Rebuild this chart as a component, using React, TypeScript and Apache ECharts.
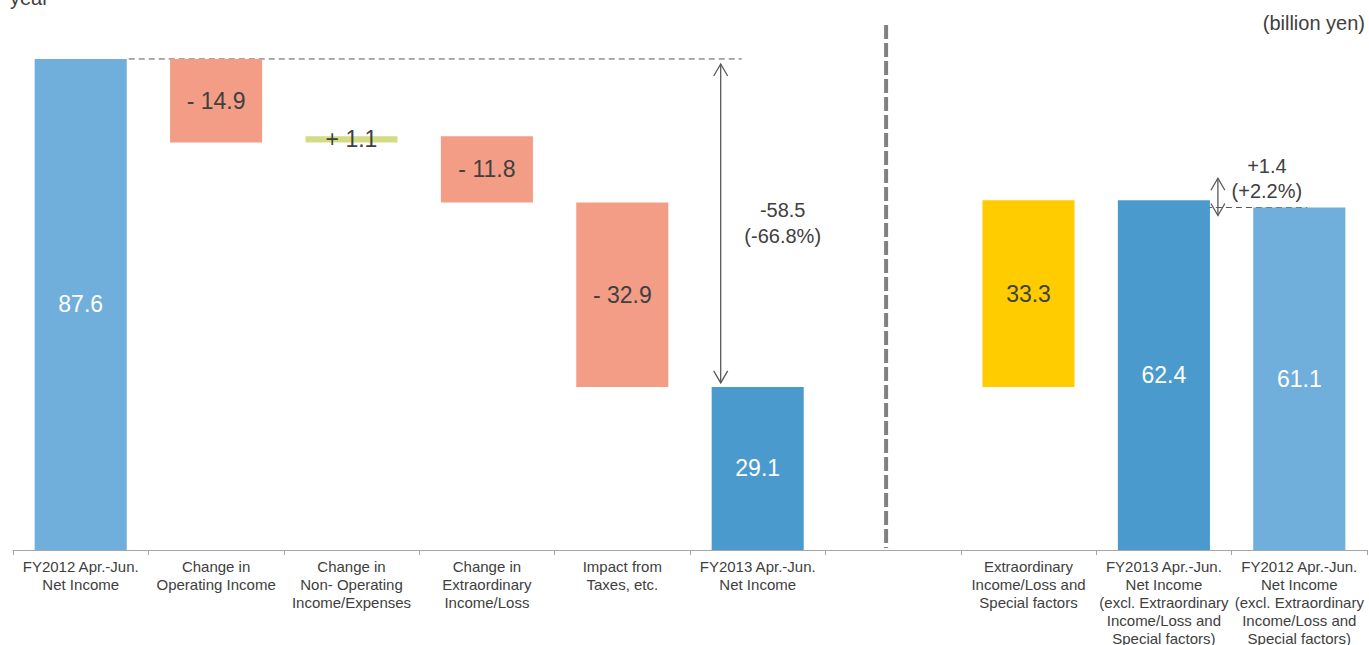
import React, { useEffect, useRef } from "react";
import * as echarts from "echarts";

const categories = [
  "FY2012 Apr.-Jun.\nNet Income",
  "Change in\nOperating Income",
  "Change in\nNon- Operating\nIncome/Expenses",
  "Change in\nExtraordinary\nIncome/Loss",
  "Impact from\nTaxes, etc.",
  "FY2013 Apr.-Jun.\nNet Income",
  "",
  "Extraordinary\nIncome/Loss and\nSpecial factors",
  "FY2013 Apr.-Jun.\nNet Income\n(excl. Extraordinary\nIncome/Loss and\nSpecial factors)",
  "FY2012 Apr.-Jun.\nNet Income\n(excl. Extraordinary\nIncome/Loss and\nSpecial factors)",
];
const values: (number | null)[] = [87.6, -14.9, 1.1, -11.8, -32.9, 29.1, null, 33.3, 62.4, 61.1];
const kinds = ["total", "delta", "delta", "delta", "delta", "total", "none", "delta", "total", "total"];
const signedLabels = [false, true, true, true, true, false, false, false, false, false];
const barColors = ["#70AEDB", "#F39D87", "#D3DC84", "#F39D87", "#F39D87", "#4A9ACE", "transparent", "#FFCC00", "#4A9ACE", "#70AEDB"];
const labelColors = ["#ffffff", "#404040", "#404040", "#404040", "#404040", "#ffffff", "#ffffff", "#404040", "#ffffff", "#ffffff"];
const changeLabels = ["-58.5", "(-66.8%)"];
const exclLabels = ["+1.4", "(+2.2%)"];
const unitLabel = "(billion yen)";
const cutTitle = "year";

const FONT = "'Liberation Sans', Arial, sans-serif";
const DARK = "#404040";

export default function App() {
  const ref = useRef<HTMLDivElement>(null);
  useEffect(() => {
    if (!ref.current) return;
    const chart = echarts.init(ref.current, undefined, { renderer: "svg" });

    let running = 0;
    const base: (number | null)[] = [];
    const height: any[] = [];
    values.forEach((v, i) => {
      if (kinds[i] === "total" && v != null) {
        base.push(0);
        height.push(v);
        running = v;
      } else if (kinds[i] === "delta" && v != null) {
        const end = running + v;
        base.push(Math.min(running, end));
        height.push(Math.abs(v));
        running = end;
      } else {
        base.push(null);
        height.push(null);
      }
    });

    const fmt = (i: number) => {
      const v = values[i];
      if (v == null) return "";
      if (signedLabels[i]) return (v < 0 ? "- " : "+ ") + Math.abs(v).toFixed(1);
      return Math.abs(v).toFixed(1);
    };

    chart.setOption({
      animation: false,
      textStyle: { fontFamily: FONT },
      grid: { left: 13, right: 2, top: 45.5, bottom: 95, containLabel: false, outerBoundsMode: "none" },
      xAxis: {
        type: "category",
        data: categories,
        axisLine: { lineStyle: { color: "#A6A6A6", width: 1 } },
        axisTick: { show: true, length: 5, lineStyle: { color: "#A6A6A6" } },
        axisLabel: {
          interval: 0,
          margin: 7,
          color: DARK,
          fontSize: 15,
          lineHeight: 18,
          fontFamily: FONT,
        },
      },
      yAxis: {
        type: "value",
        min: 0,
        max: 90,
        show: false,
        splitLine: { show: false },
      },
      series: [
        {
          type: "bar",
          stack: "w",
          barWidth: "68%",
          itemStyle: { color: "transparent" },
          data: base,
          silent: true,
        },
        {
          type: "bar",
          stack: "w",
          barWidth: "68%",
          data: height.map((h, i) => ({
            value: h,
            itemStyle: { color: barColors[i] },
            label: {
              show: h != null,
              position: "inside",
              formatter: () => fmt(i),
              color: labelColors[i],
              fontSize: 23,
              fontFamily: FONT,
            },
          })),
        },
      ],
    });

    const px = (c: number, v: number) => chart.convertToPixel({ gridIndex: 0 }, [c, v]) as number[];
    const cx = (c: number) => px(c, 0)[0];
    const y = (v: number) => px(0, v)[1];
    const catW = cx(1) - cx(0);
    const barHalf = (catW * 0.68) / 2;

    const arrow = (x: number, y1: number, y2: number) => [
      { type: "line", shape: { x1: x, y1, x2: x, y2 }, style: { stroke: "#595959", lineWidth: 1.3 } },
      { type: "polyline", shape: { points: [[x - 7, y1 + 12], [x, y1], [x + 7, y1 + 12]] }, style: { stroke: "#595959", fill: null, lineWidth: 1.3 } },
      { type: "polyline", shape: { points: [[x - 7, y2 - 12], [x, y2], [x + 7, y2 - 12]] }, style: { stroke: "#595959", fill: null, lineWidth: 1.3 } },
    ];

    const v0 = values[0] as number;
    const v5 = values[5] as number;
    const v8 = values[8] as number;
    const v9 = values[9] as number;
    const mid = (y(v0) + y(v5)) / 2;
    const axisY = y(0);

    const graphic: any[] = [
      {
        type: "text",
        left: 10,
        top: -12,
        style: { text: cutTitle, fontSize: 20, fill: DARK, fontFamily: FONT },
      },
      {
        type: "text",
        right: 4,
        top: 13,
        style: { text: unitLabel, fontSize: 20, fill: DARK, fontFamily: FONT },
      },
      // separator
      {
        type: "line",
        shape: { x1: cx(6) - 7, y1: 25, x2: cx(6) - 7, y2: axisY - 2 },
        style: { stroke: "#808080", lineWidth: 4, lineDash: [14, 4] },
      },
      // top dashed line
      {
        type: "line",
        shape: { x1: cx(0) + barHalf + 2, y1: y(v0), x2: cx(5) - 16, y2: y(v0) },
        style: { stroke: "#595959", lineWidth: 1, lineDash: [6, 4] },
      },
      ...arrow(cx(5) - 37, y(v0) + 5, y(v5) - 4),
      {
        type: "text",
        x: cx(5) + 25,
        y: mid - 13,
        style: { text: changeLabels[0], fontSize: 20, fill: DARK, align: "center", verticalAlign: "middle", fontFamily: FONT },
      },
      {
        type: "text",
        x: cx(5) + 25,
        y: mid + 13,
        style: { text: changeLabels[1], fontSize: 20, fill: DARK, align: "center", verticalAlign: "middle", fontFamily: FONT },
      },
      // right dashed line
      {
        type: "line",
        shape: { x1: cx(8) + 22, y1: y(v9), x2: cx(9) + 8, y2: y(v9) },
        style: { stroke: "#595959", lineWidth: 1, lineDash: [6, 4] },
      },
      ...arrow(cx(8) + 54, y(v8) - 22, y(v9) + 8),
      {
        type: "text",
        x: cx(8) + 103,
        y: y(v8) - 34,
        style: { text: exclLabels[0], fontSize: 20, fill: DARK, align: "center", verticalAlign: "middle", fontFamily: FONT },
      },
      {
        type: "text",
        x: cx(8) + 103,
        y: y(v8) - 9,
        style: { text: exclLabels[1], fontSize: 20, fill: DARK, align: "center", verticalAlign: "middle", fontFamily: FONT },
      },
    ];
    chart.setOption({ graphic });

    return () => chart.dispose();
  }, []);

  return (
    <div
      ref={ref}
      style={{ position: "fixed", left: 0, top: 0, width: 1369, height: 645, background: "#ffffff" }}
    />
  );
}
